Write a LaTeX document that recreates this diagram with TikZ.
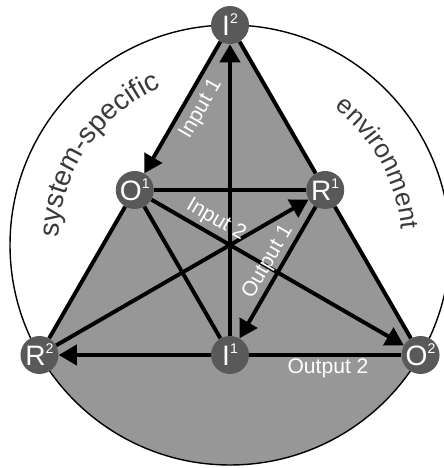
\documentclass[tikz,border=0pt]{standalone}
\usepackage{fontspec}
\setmainfont{Liberation Sans}
\usetikzlibrary{arrows.meta,decorations.text}
\definecolor{areagray}{HTML}{979797}
\definecolor{nodegray}{HTML}{595959}
\definecolor{textgray}{HTML}{3A3A3A}
\newcommand\polename[2]{#1\raisebox{8.5pt}{\fontsize{10}{10}\selectfont #2}}
\begin{document}
\begin{tikzpicture}
  [
    pole/.style = {circle, fill=nodegray, text=white, minimum size=0.95cm, inner sep=0pt, font=\fontsize{20}{20}\selectfont},
    link/.style = {draw, line width=2.8pt},
    flow/.style = {link, -{Triangle[length=0.45cm,width=0.5cm]}},
    tag/.style  = {text=white, font=\fontsize{15}{15}\selectfont},
    side/.style = {decorate, decoration={text along path, text align=center, text color=textgray}}
  ]
 \useasboundingbox (0,0) rectangle (11.075,11.7);
 \coordinate (c) at (5.75,5.575);
 \fill[areagray] (5.75,11.075) -- (0.987,2.825) arc[start angle=210, end angle=330, radius=5.5] -- cycle;
 \draw[line width=1pt] (c) circle[radius=5.5];
 \path[side, shift={(c)}, decoration={text={|\fontsize{20}{20}\selectfont|system-specific}}]
   (195.5:4.3) arc[start angle=195.5, end angle=95.5, radius=4.3];
 \path[side, shift={(c)}, decoration={text={|\fontsize{18.5}{18.5}\selectfont|environment}}]
   (79:4.3) arc[start angle=79, end angle=-21, radius=4.3];
 \node[pole] (I2) at (5.75,11.075) {\polename{I}{2}};
 \node[pole] (R2) at (0.987,2.825) {\polename{R}{2}};
 \node[pole] (O2) at (10.513,2.825) {\polename{O}{2}};
 \node[pole] (O1) at (3.369,6.95) {\polename{O}{1}};
 \node[pole] (R1) at (8.131,6.95) {\polename{R}{1}};
 \node[pole] (I1) at (5.75,2.825) {\polename{I}{1}};
 \draw[link] (O1) -- (R2);
 \draw[link] (I2) -- (R1) -- (O2);
 \draw[link] (I1) -- (O2);
 \draw[link] (O1) -- (R1);
 \draw[link] (O1) -- (I1);
 \draw[flow] (I2) -- (O1);
 \draw[flow] (I1) -- (I2);
 \draw[flow] (O1) -- (O2);
 \draw[flow] (R2) -- (R1);
 \draw[flow] (R1) -- (I1);
 \draw[flow] (I1) -- (R2);
 \node[tag, rotate=60] (in1) at (5.03,8.975) {Input 1};
 \node[tag, rotate=-30] (in2) at (5.4,6.2) {Input 2};
 \node[tag, rotate=60] (out1) at (6.7,5.15) {Output 1};
 \node[tag] (out2) at (8.2,2.5) {Output 2};
\end{tikzpicture}
\end{document}
